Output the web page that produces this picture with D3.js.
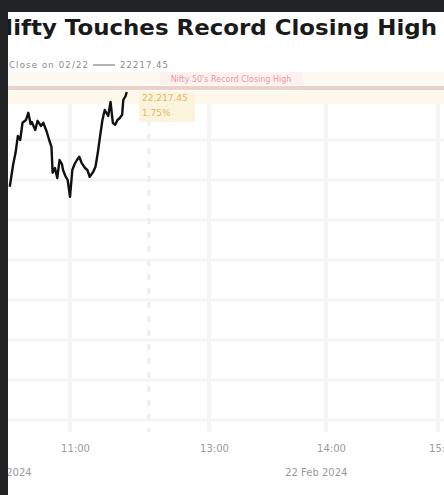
<!DOCTYPE html>
<html>
<head>
<meta charset="utf-8">
<script src="https://cdn.jsdelivr.net/npm/d3@7"></script>
<style>
  html, body { margin: 0; padding: 0; background: #212224; }
  svg { display: block; }
</style>
</head>
<body>
<div class="chart"></div>
<script>
// intraday Nifty 50 (times as HH:MM, values in index points)
const times = ["10:08", "10:11", "10:13", "10:15", "10:17", "10:19", "10:22", "10:24", "10:26", "10:27",
    "10:30", "10:32", "10:35", "10:37", "10:40", "10:42", "10:44", "10:45", "10:47", "10:49",
    "10:51", "10:53", "10:54", "10:56", "10:58", "11:00", "11:02", "11:04", "11:06", "11:08",
    "11:10", "11:13", "11:15", "11:17", "11:20", "11:22", "11:24", "11:26", "11:28", "11:30",
    "11:33", "11:35", "11:37", "11:39", "11:41", "11:43", "11:45", "11:46", "11:48", "11:49"];
const values = [21983, 22040, 22068, 22110, 22100, 22143, 22150, 22168, 22140, 22145,
    22125, 22148, 22135, 22143, 22120, 22100, 22083, 22018, 22030, 22005,
    22050, 22040, 22025, 22010, 22000, 21958, 22025, 22040, 22050, 22058,
    22043, 22030, 22025, 22008, 22020, 22033, 22068, 22110, 22150, 22175,
    22160, 22195, 22143, 22138, 22150, 22155, 22163, 22200, 22210, 22220];

const recordClose = 22230;
const yTicks = [21400, 21500, 21600, 21700, 21800, 21900, 22000, 22100, 22200];
const xTickTimes = ["11:00", "13:00", "14:00", "15:00"];
const xTickLabels = ["11:00", "13:00", "14:00", "15:00"];
const dateTimes = ["10:00", "13:55"];
const dateLabels = ["21 Feb 2024", "22 Feb 2024"];
const markerTime = "12:08";

const title = "Nifty Touches Record Closing High";
const legendName = "Close on 02/22";
const legendValue = "22217.45";
const recordLabel = "Nifty 50's Record Closing High";
const annotValue = "22,217.45";
const annotChange = "1.75%";

const W = 444, H = 495;
const frame = { left: 8, top: 12 };

const hours = s => { const [h, m] = s.split(':'); return +h + m / 60; };

const svg = d3.select('.chart').append('svg')
    .attr('width', W)
    .attr('height', H);

svg.append('rect')
    .attr('x', frame.left).attr('y', frame.top)
    .attr('width', W - frame.left).attr('height', H - frame.top)
    .attr('fill', '#ffffff');

/* Scales */
// the axis is not evenly spaced in time, so map each tick separately
const x = d3.scaleLinear()
    .domain(xTickTimes.map(hours))
    .range([70, 209, 326, 438]);

const y = d3.scaleLinear()
    .domain([21400, 22200])
    .range([420, 100]);

/* Grid */
const grid = svg.append('g').attr('class', 'grid');
grid.selectAll('.hline')
    .data(yTicks).enter()
    .append('line')
    .attr('x1', frame.left).attr('x2', W)
    .attr('y1', d => y(d)).attr('y2', d => y(d))
    .attr('stroke', '#f5f5f5')
    .attr('stroke-width', 3);

grid.selectAll('.vline')
    .data(xTickTimes).enter()
    .append('line')
    .attr('x1', d => x(hours(d))).attr('x2', d => x(hours(d)))
    .attr('y1', 92).attr('y2', 432)
    .attr('stroke', '#f5f5f5')
    .attr('stroke-width', 4);

grid.append('line')
    .attr('x1', x(hours(markerTime))).attr('x2', x(hours(markerTime)))
    .attr('y1', 92).attr('y2', 432)
    .attr('stroke', '#ededed')
    .attr('stroke-width', 3)
    .attr('stroke-dasharray', '6,8');

/* Record close band + label */
svg.append('rect')
    .attr('x', frame.left).attr('y', y(recordClose) - 16)
    .attr('width', W - frame.left).attr('height', 14)
    .attr('fill', '#fcf8f2');
svg.append('rect')
    .attr('x', 160).attr('y', y(recordClose) - 16)
    .attr('width', 142).attr('height', 13)
    .attr('fill', '#fdf0f0');
svg.append('text')
    .attr('x', 231).attr('y', y(recordClose) - 6.5)
    .attr('text-anchor', 'middle')
    .attr('font-family', 'DejaVu Sans, sans-serif')
    .attr('font-size', 8)
    .attr('fill', '#e59b9b')
    .text(recordLabel);
svg.append('rect')
    .attr('x', frame.left).attr('y', y(recordClose) + 3)
    .attr('width', W - frame.left).attr('height', 13)
    .attr('fill', '#fdf8ea');
svg.append('line')
    .attr('x1', frame.left).attr('x2', W)
    .attr('y1', y(recordClose)).attr('y2', y(recordClose))
    .attr('stroke', '#e8d2ca')
    .attr('stroke-width', 4);

/* Last value annotation */
svg.append('rect')
    .attr('x', 139).attr('y', y(recordClose) + 4)
    .attr('width', 56).attr('height', 30)
    .attr('fill', '#fcf3dc');
svg.append('text')
    .attr('x', 142).attr('y', y(recordClose) + 13)
    .attr('font-family', 'DejaVu Sans, sans-serif')
    .attr('font-size', 9)
    .attr('fill', '#dcb860')
    .text(annotValue);
svg.append('text')
    .attr('x', 142).attr('y', y(recordClose) + 28)
    .attr('font-family', 'DejaVu Sans, sans-serif')
    .attr('font-size', 9)
    .attr('fill', '#dcb860')
    .text(annotChange);

/* Line */
const data = times.map((t, i) => ({ t: hours(t), v: values[i] }));
const line = d3.line()
    .x(d => x(d.t))
    .y(d => y(d.v));
svg.append('path')
    .datum(data)
    .attr('d', line)
    .attr('fill', 'none')
    .attr('stroke', '#111111')
    .attr('stroke-width', 2.4)
    .attr('stroke-linejoin', 'round');

/* X axis labels */
const xAxis = d3.axisBottom(x)
    .tickValues(xTickTimes.map(hours))
    .tickFormat((d, i) => xTickLabels[i])
    .tickSize(0)
    .tickPadding(0);
const gx = svg.append('g')
    .attr('transform', 'translate(5, 445)')
    .call(xAxis);
gx.select('.domain').remove();
gx.selectAll('text')
    .attr('font-family', 'DejaVu Sans, sans-serif')
    .attr('font-size', 10)
    .attr('fill', '#9a9a9a');

svg.selectAll('.date-label')
    .data(dateLabels).enter()
    .append('text')
    .attr('x', (d, i) => x(hours(dateTimes[i])))
    .attr('y', 476)
    .attr('text-anchor', 'middle')
    .attr('font-family', 'DejaVu Sans, sans-serif')
    .attr('font-size', 10)
    .attr('fill', '#9a9a9a')
    .text(d => d);

/* Title + legend */
svg.append('text')
    .attr('x', -6).attr('y', 35)
    .attr('font-family', 'DejaVu Sans, sans-serif')
    .attr('font-weight', 'bold')
    .attr('font-size', 22)
    .attr('textLength', 443)
    .attr('lengthAdjust', 'spacingAndGlyphs')
    .attr('fill', '#1a1a1a')
    .text(title);

svg.append('text')
    .attr('x', 9).attr('y', 68)
    .attr('font-family', 'DejaVu Sans, sans-serif')
    .attr('font-size', 8.5)
    .attr('textLength', 79)
    .attr('fill', '#8a8a8a')
    .text(legendName);
svg.append('line')
    .attr('x1', 93).attr('x2', 115)
    .attr('y1', 65).attr('y2', 65)
    .attr('stroke', '#9a9a9a')
    .attr('stroke-width', 1.5);
svg.append('text')
    .attr('x', 120).attr('y', 68)
    .attr('font-family', 'DejaVu Sans, sans-serif')
    .attr('font-size', 8.5)
    .attr('textLength', 48)
    .attr('fill', '#8a8a8a')
    .text(legendValue);

/* dark frame on top, it clips the title */
svg.append('rect')
    .attr('x', 0).attr('y', 0)
    .attr('width', frame.left).attr('height', H)
    .attr('fill', '#212224');
svg.append('rect')
    .attr('x', 0).attr('y', 0)
    .attr('width', W).attr('height', frame.top)
    .attr('fill', '#212224');
</script>
</body>
</html>
